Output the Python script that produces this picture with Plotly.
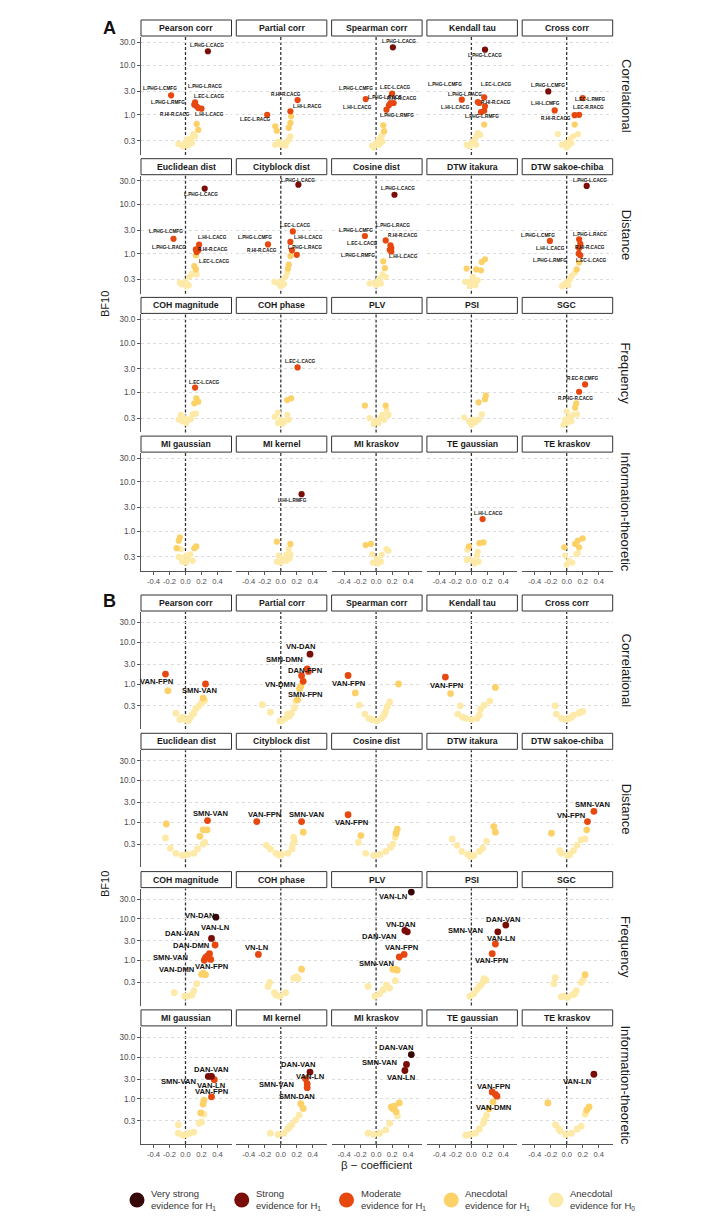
import math
import plotly.graph_objects as go

W, H = 702, 1219
FONT = "Liberation Sans, Arial, sans-serif"

FAMILIES = ["Correlational", "Distance", "Frequency", "Information-theoretic"]
METRICS = [
    ["Pearson corr", "Partial corr", "Spearman corr", "Kendall tau", "Cross corr"],
    ["Euclidean dist", "Cityblock dist", "Cosine dist", "DTW itakura", "DTW sakoe-chiba"],
    ["COH magnitude", "COH phase", "PLV", "PSI", "SGC"],
    ["MI gaussian", "MI kernel", "MI kraskov", "TE gaussian", "TE kraskov"],
]
Y_TICKS = [0.3, 1, 3, 10, 30]
Y_TICKTEXT = ["0.3", "1.0", "3.0", "10.0", "30.0"]
X_TICKS = [-0.4, -0.2, 0.0, 0.2, 0.4]
X_TICKTEXT = ["-0.4", "-0.2", "0.0", "0.2", "0.4"]

EVIDENCE = ["vs", "s", "m", "a1", "a0"]
EVIDENCE_TEXT = [
    "Very strong<br>evidence for H<sub>1</sub>",
    "Strong<br>evidence for H<sub>1</sub>",
    "Moderate<br>evidence for H<sub>1</sub>",
    "Anecdotal<br>evidence for H<sub>1</sub>",
    "Anecdotal<br>evidence for H<sub>0</sub>",
]
COLORS = {"vs": "#360707", "s": "#7a0d07", "m": "#e6480f", "a1": "#fcd168", "a0": "#feeaa8"}

# ---------------- Panel A data: (beta, BF10, evidence, label) ----------------
A_PEARSON_CORR = [
    (0.28, 19.5, "s", "L.PHG-L.CACG"), (-0.18, 2.5, "m", "L.PHG-L.CMFG"), (0.12, 1.8, "m", "L.PHG-L.RACG"),
    (0.14, 1.5, "m", "L.EC-L.CACG"), (0.16, 1.38, "m", "L.PHG-L.RMFG"), (0.20, 1.34, "m", "L.HI-L.CACG"),
    (0.11, 1.62, "m", "R.HI-R.CACG"),
    (0.14, 0.66, "a1", ""), (0.16, 0.50, "a1", ""), (0.10, 0.41, "a0", ""), (0.08, 0.35, "a0", ""),
    (0.05, 0.32, "a0", ""), (0.0, 0.28, "a0", ""), (-0.05, 0.25, "a0", ""), (0.03, 0.24, "a0", ""),
    (0.08, 0.27, "a0", ""), (-0.03, 0.23, "a0", ""), (-0.09, 0.26, "a0", ""), (0.12, 0.37, "a0", ""),
    (0.02, 0.32, "a0", ""),
]
A_PARTIAL_CORR = [
    (0.21, 2.0, "m", "R.HI-R.CACG"), (0.12, 1.19, "m", "L.HI-L.RACG"), (-0.17, 1.01, "m", "L.EC-L.RACG"),
    (0.13, 0.94, "a1", ""), (0.12, 0.69, "a1", ""), (0.10, 0.55, "a1", ""), (-0.07, 0.59, "a1", ""),
    (-0.05, 0.48, "a1", ""), (0.12, 0.37, "a0", ""), (0.10, 0.32, "a0", ""), (0.04, 0.27, "a0", ""),
    (0.0, 0.25, "a0", ""), (-0.07, 0.25, "a0", ""), (0.06, 0.24, "a0", ""), (-0.03, 0.29, "a0", ""),
    (0.08, 0.29, "a0", ""),
]
A_SPEARMAN_CORR = [
    (0.21, 23.4, "s", "L.PHG-L.CACG"), (-0.13, 2.1, "m", "L.PHG-L.CMFG"), (0.20, 2.7, "m", "L.EC-L.CACG"),
    (0.18, 1.75, "m", "L.PHG-L.RACG"), (0.16, 1.57, "m", "R.HI-R.CACG"), (0.13, 1.28, "m", "L.HI-L.CACG"),
    (0.22, 1.75, "m", "L.PHG-L.RMFG"),
    (0.09, 0.62, "a1", ""), (0.10, 0.47, "a1", ""), (0.08, 0.40, "a0", ""), (0.06, 0.36, "a0", ""),
    (0.03, 0.32, "a0", ""), (0.0, 0.27, "a0", ""), (-0.05, 0.24, "a0", ""), (0.04, 0.25, "a0", ""),
    (0.08, 0.29, "a0", ""), (-0.03, 0.22, "a0", ""),
]
A_KENDALL_TAU = [
    (0.17, 21.0, "s", "L.PHG-L.CACG"), (-0.12, 2.04, "m", "L.PHG-L.CMFG"), (0.16, 2.28, "m", "L.EC-L.CACG"),
    (0.08, 1.83, "m", "L.PHG-L.RACG"), (0.10, 1.75, "m", "R.HI-R.CACG"), (0.17, 1.5, "m", ""),
    (0.16, 1.22, "m", "L.HI-L.CACG"), (0.12, 1.15, "m", "L.PHG-L.RMFG"),
    (0.16, 0.64, "a1", ""), (0.08, 0.43, "a0", ""), (0.06, 0.37, "a0", ""), (0.11, 0.40, "a0", ""),
    (0.04, 0.32, "a0", ""), (0.0, 0.27, "a0", ""), (-0.06, 0.25, "a0", ""), (-0.02, 0.23, "a0", ""),
    (0.06, 0.25, "a0", ""), (0.02, 0.29, "a0", ""),
]
A_CROSS_CORR = [
    (-0.23, 3.0, "s", "L.PHG-L.CMFG"), (0.20, 2.2, "m", "L.EC-L.RMFG"), (-0.15, 1.24, "m", "L.HI-L.CMFG"),
    (0.10, 0.99, "m", "R.HI-R.CACG"), (0.155, 1.01, "m", "L.EC-R.RACG"),
    (0.10, 0.64, "a1", ""), (0.14, 0.41, "a0", ""), (0.08, 0.37, "a0", ""), (-0.11, 0.41, "a0", ""),
    (0.04, 0.32, "a0", ""), (-0.02, 0.27, "a0", ""), (-0.06, 0.25, "a0", ""), (0.02, 0.24, "a0", ""),
    (0.06, 0.27, "a0", ""), (0.0, 0.22, "a0", ""),
]
A_EUCLIDEAN_DIST = [
    (0.24, 20.8, "s", "L.PHG-L.CACG"), (-0.15, 2.0, "m", "L.PHG-L.CMFG"), (0.17, 1.52, "m", "L.HI-L.CACG"),
    (0.13, 1.22, "m", "L.PHG-L.RACG"), (0.16, 1.17, "m", "R.HI-R.CACG"), (0.14, 1.08, "m", "L.EC-L.CACG"),
    (0.13, 0.93, "a1", ""), (0.11, 0.56, "a1", ""), (0.13, 0.48, "a1", ""), (0.08, 0.39, "a0", ""),
    (0.14, 0.38, "a0", ""), (0.05, 0.34, "a0", ""), (0.0, 0.27, "a0", ""), (-0.05, 0.24, "a0", ""),
    (0.04, 0.23, "a0", ""), (0.01, 0.22, "a0", ""), (-0.07, 0.26, "a0", ""),
]
A_CITYBLOCK_DIST = [
    (0.22, 25.0, "s", "L.PHG-L.CACG"), (0.15, 2.83, "m", "L.EC-L.CACG"), (-0.16, 1.54, "m", "L.PHG-L.CMFG"),
    (0.12, 1.73, "m", "L.HI-L.CACG"), (0.14, 1.17, "m", "L.PHG-L.RACG"), (0.20, 0.95, "m", "R.HI-R.CACG"),
    (0.12, 0.90, "a1", ""), (0.10, 0.60, "a1", ""), (0.09, 0.50, "a1", ""), (0.08, 0.41, "a0", ""),
    (0.06, 0.34, "a0", ""), (0.02, 0.29, "a0", ""), (-0.03, 0.25, "a0", ""), (-0.08, 0.27, "a0", ""),
    (0.04, 0.24, "a0", ""), (0.0, 0.22, "a0", ""),
]
A_COSINE_DIST = [
    (0.23, 15.6, "s", "L.PHG-L.CACG"), (-0.14, 2.28, "m", "L.PHG-L.CMFG"), (0.12, 1.86, "m", "L.PHG-L.RACG"),
    (0.18, 1.47, "m", "R.HI-R.CACG"), (0.19, 1.3, "m", "L.EC-L.CACG"), (0.19, 1.11, "m", "L.HI-L.CACG"),
    (0.17, 1.2, "m", "L.PHG-L.RMFG"),
    (0.09, 0.70, "a1", ""), (0.11, 0.51, "a1", ""), (0.08, 0.38, "a0", ""), (0.12, 0.34, "a0", ""),
    (0.04, 0.31, "a0", ""), (-0.02, 0.26, "a0", ""), (-0.08, 0.25, "a0", ""), (0.06, 0.25, "a0", ""),
    (0.0, 0.23, "a0", ""),
]
A_DTW_ITAKURA = [
    (0.17, 0.77, "a1", ""), (0.13, 0.68, "a1", ""), (-0.06, 0.50, "a1", ""), (0.06, 0.48, "a1", ""),
    (0.12, 0.46, "a1", ""), (0.02, 0.34, "a0", ""), (-0.04, 0.27, "a0", ""), (0.0, 0.25, "a0", ""),
    (0.04, 0.27, "a0", ""), (-0.08, 0.27, "a0", ""), (0.08, 0.29, "a0", ""), (-0.02, 0.22, "a0", ""),
    (0.05, 0.23, "a0", ""),
]
A_DTW_SAKOE_CHIBA = [
    (0.25, 23.5, "s", "L.PHG-L.CACG"), (-0.21, 1.81, "m", "L.PHG-L.CMFG"), (0.155, 1.95, "m", "L.PHG-L.RACG"),
    (0.17, 1.59, "m", "R.HI-R.CACG"), (0.155, 1.3, "m", "L.HI-L.CACG"), (0.15, 1.0, "m", "L.EC-L.CACG"),
    (0.17, 0.93, "m", "L.PHG-L.RMFG"),
    (0.155, 0.66, "a1", ""), (0.125, 0.48, "a1", ""), (0.10, 0.41, "a0", ""), (0.06, 0.35, "a0", ""),
    (0.04, 0.30, "a0", ""), (0.0, 0.27, "a0", ""), (-0.03, 0.24, "a0", ""), (-0.06, 0.22, "a0", ""),
    (0.02, 0.23, "a0", ""),
]
A_COH_MAGNITUDE = [
    (0.12, 1.25, "m", "L.EC-L.CACG"),
    (0.135, 0.76, "a1", ""), (0.16, 0.65, "a1", ""), (0.11, 0.60, "a1", ""), (0.09, 0.36, "a0", ""),
    (0.13, 0.37, "a0", ""), (-0.06, 0.35, "a0", ""), (-0.01, 0.30, "a0", ""), (0.04, 0.28, "a0", ""),
    (-0.04, 0.26, "a0", ""), (0.01, 0.24, "a0", ""), (0.07, 0.29, "a0", ""), (-0.085, 0.28, "a0", ""),
]
A_COH_PHASE = [
    (0.21, 3.2, "m", "L.EC-L.CACG"),
    (0.13, 0.76, "a1", ""), (0.08, 0.70, "a1", ""), (-0.035, 0.39, "a0", ""), (0.08, 0.35, "a0", ""),
    (-0.075, 0.32, "a0", ""), (0.0, 0.28, "a0", ""), (0.05, 0.26, "a0", ""), (-0.035, 0.24, "a0", ""),
    (0.10, 0.28, "a0", ""), (0.02, 0.23, "a0", ""),
]
A_PLV = [
    (-0.14, 0.54, "a1", ""), (0.12, 0.54, "a1", ""), (0.13, 0.44, "a0", ""), (0.155, 0.35, "a0", ""),
    (0.08, 0.35, "a0", ""), (0.05, 0.30, "a0", ""), (-0.08, 0.30, "a0", ""), (-0.015, 0.26, "a0", ""),
    (0.03, 0.24, "a0", ""), (-0.03, 0.23, "a0", ""), (0.10, 0.28, "a0", ""),
]
A_PSI = [
    (0.18, 0.86, "a1", ""), (0.17, 0.73, "a1", ""), (0.09, 0.63, "a1", ""), (0.13, 0.36, "a0", ""),
    (-0.09, 0.31, "a0", ""), (0.02, 0.28, "a0", ""), (-0.03, 0.26, "a0", ""), (0.05, 0.25, "a0", ""),
    (0.0, 0.22, "a0", ""), (0.09, 0.28, "a0", ""),
]
A_SGC = [
    (0.23, 1.45, "m", "R.EC-R.CMFG"), (0.155, 1.03, "m", "R.PHG-R.CACG"),
    (0.12, 0.60, "a1", ""), (0.105, 0.49, "a1", ""), (0.0, 0.41, "a0", ""), (0.13, 0.36, "a0", ""),
    (0.08, 0.35, "a0", ""), (0.03, 0.32, "a0", ""), (-0.02, 0.28, "a0", ""), (0.06, 0.26, "a0", ""),
    (0.0, 0.24, "a0", ""), (-0.04, 0.22, "a0", ""),
]
A_MI_GAUSSIAN = [
    (-0.07, 0.75, "a1", ""), (-0.085, 0.64, "a1", ""), (-0.11, 0.45, "a1", ""), (-0.06, 0.43, "a0", ""),
    (0.11, 0.45, "a1", ""), (0.135, 0.49, "a1", ""), (0.06, 0.34, "a0", ""), (0.01, 0.32, "a0", ""),
    (-0.06, 0.29, "a0", ""), (0.03, 0.27, "a0", ""), (-0.04, 0.24, "a0", ""), (0.01, 0.23, "a0", ""),
    (0.09, 0.25, "a0", ""), (-0.085, 0.30, "a0", ""),
]
A_MI_KERNEL = [
    (0.26, 5.6, "s", "L.HI-L.RMFG"),
    (-0.05, 0.61, "a1", ""), (0.12, 0.55, "a1", ""), (0.10, 0.43, "a0", ""), (0.12, 0.34, "a0", ""),
    (0.07, 0.33, "a0", ""), (-0.025, 0.32, "a0", ""), (0.025, 0.27, "a0", ""), (-0.05, 0.24, "a0", ""),
    (0.07, 0.25, "a0", ""), (0.0, 0.23, "a0", ""), (0.11, 0.28, "a0", ""),
]
A_MI_KRASKOV = [
    (-0.13, 0.52, "a1", ""), (-0.065, 0.55, "a1", ""), (0.13, 0.43, "a0", ""), (0.155, 0.40, "a0", ""),
    (-0.05, 0.34, "a0", ""), (0.07, 0.33, "a0", ""), (0.01, 0.27, "a0", ""), (0.06, 0.24, "a0", ""),
    (-0.04, 0.23, "a0", ""), (0.02, 0.22, "a0", ""),
]
A_TE_GAUSSIAN = [
    (0.14, 1.75, "m", "L.HI-L.CACG"),
    (0.15, 0.59, "a1", ""), (0.10, 0.57, "a1", ""), (-0.03, 0.49, "a1", ""), (-0.05, 0.42, "a0", ""),
    (0.08, 0.38, "a0", ""), (0.07, 0.32, "a0", ""), (-0.03, 0.27, "a0", ""), (0.02, 0.25, "a0", ""),
    (0.09, 0.24, "a0", ""), (0.04, 0.22, "a0", ""), (-0.06, 0.26, "a0", ""),
]
A_TE_KRASKOV = [
    (0.20, 0.71, "a1", ""), (0.14, 0.64, "a1", ""), (0.105, 0.55, "a1", ""), (0.155, 0.47, "a1", ""),
    (-0.03, 0.47, "a1", ""), (0.12, 0.34, "a0", ""), (0.14, 0.36, "a0", ""), (-0.02, 0.32, "a0", ""),
    (0.03, 0.25, "a0", ""), (0.0, 0.21, "a0", ""), (0.07, 0.23, "a0", ""),
]

# ---------------- Panel B data ----------------
B_PEARSON_CORR = [
    (-0.25, 1.73, "m", "VAN-FPN"), (0.25, 1.0, "m", "SMN-VAN"),
    (-0.22, 0.69, "a1", ""), (0.22, 0.46, "a1", ""), (0.20, 0.35, "a0", ""), (0.24, 0.40, "a0", ""),
    (0.13, 0.26, "a0", ""), (0.17, 0.30, "a0", ""), (-0.12, 0.20, "a0", ""), (-0.04, 0.16, "a0", ""),
    (0.0, 0.14, "a0", ""), (0.055, 0.15, "a0", ""), (0.08, 0.18, "a0", ""), (0.105, 0.20, "a0", ""),
    (-0.07, 0.14, "a0", ""), (0.03, 0.13, "a0", ""),
]
B_PARTIAL_CORR = [
    (0.365, 5.2, "s", "VN-DAN"), (0.33, 2.3, "m", "SMN-DMN"), (0.345, 2.0, "m", "DAN-FPN"),
    (0.26, 1.58, "m", ""), (0.28, 1.16, "m", "VN-DMN"),
    (0.25, 0.88, "a1", ""), (0.235, 0.77, "a1", ""), (0.21, 0.42, "a1", "SMN-FPN"),
    (0.185, 0.39, "a0", ""), (0.17, 0.27, "a0", ""), (0.135, 0.20, "a0", ""), (0.11, 0.17, "a0", ""),
    (0.06, 0.15, "a0", ""), (0.01, 0.13, "a0", ""), (-0.23, 0.32, "a0", ""), (-0.13, 0.21, "a0", ""),
    (-0.01, 0.13, "a0", ""), (0.085, 0.19, "a0", ""),
]
B_SPEARMAN_CORR = [
    (-0.35, 1.6, "m", "VAN-FPN"),
    (0.28, 1.0, "a1", ""), (-0.26, 0.61, "a1", ""), (-0.21, 0.31, "a0", ""), (0.17, 0.37, "a0", ""),
    (0.14, 0.29, "a0", ""), (0.12, 0.22, "a0", ""), (-0.14, 0.19, "a0", ""), (-0.05, 0.14, "a0", ""),
    (0.01, 0.13, "a0", ""), (0.07, 0.15, "a0", ""), (0.10, 0.18, "a0", ""), (-0.09, 0.15, "a0", ""),
]
B_KENDALL_TAU = [
    (-0.325, 1.47, "m", "VAN-FPN"),
    (-0.26, 0.59, "a1", ""), (0.30, 0.83, "a1", ""), (-0.14, 0.30, "a0", ""), (0.23, 0.39, "a0", ""),
    (0.16, 0.31, "a0", ""), (0.115, 0.25, "a0", ""), (-0.17, 0.19, "a0", ""), (-0.07, 0.15, "a0", ""),
    (0.0, 0.14, "a0", ""), (0.07, 0.15, "a0", ""), (0.10, 0.18, "a0", ""), (-0.11, 0.16, "a0", ""),
]
B_CROSS_CORR = [
    (-0.145, 0.30, "a0", ""), (-0.13, 0.19, "a0", ""), (0.20, 0.22, "a0", ""), (0.15, 0.20, "a0", ""),
    (0.085, 0.18, "a0", ""), (0.035, 0.15, "a0", ""), (-0.015, 0.14, "a0", ""), (-0.065, 0.15, "a0", ""),
    (0.17, 0.21, "a0", ""), (0.06, 0.16, "a0", ""),
]
B_EUCLIDEAN_DIST = [
    (0.275, 1.1, "m", "SMN-VAN"),
    (-0.24, 0.91, "a1", ""), (0.27, 0.66, "a1", ""), (0.22, 0.66, "a1", ""), (0.18, 0.46, "a1", ""),
    (0.24, 0.33, "a0", ""), (0.22, 0.30, "a0", ""), (-0.25, 0.42, "a0", ""), (-0.19, 0.24, "a0", ""),
    (-0.12, 0.18, "a0", ""), (-0.04, 0.16, "a0", ""), (0.03, 0.17, "a0", ""), (0.105, 0.18, "a0", ""),
    (0.15, 0.23, "a0", ""),
]
B_CITYBLOCK_DIST = [
    (-0.30, 1.04, "m", "VAN-FPN"), (0.26, 1.04, "m", "SMN-VAN"),
    (0.28, 0.58, "a1", ""), (0.16, 0.44, "a0", ""), (0.17, 0.35, "a0", ""), (0.15, 0.30, "a0", ""),
    (-0.18, 0.28, "a0", ""), (-0.13, 0.23, "a0", ""), (-0.06, 0.18, "a0", ""), (0.01, 0.17, "a0", ""),
    (0.09, 0.18, "a0", ""), (0.14, 0.23, "a0", ""), (-0.02, 0.16, "a0", ""),
]
B_COSINE_DIST = [
    (-0.35, 1.52, "m", "VAN-FPN"),
    (0.265, 0.69, "a1", ""), (0.25, 0.55, "a1", ""), (0.24, 0.44, "a0", ""), (-0.19, 0.48, "a1", ""),
    (-0.22, 0.33, "a0", ""), (-0.13, 0.18, "a0", ""), (-0.03, 0.16, "a0", ""), (0.045, 0.17, "a0", ""),
    (0.12, 0.20, "a0", ""), (0.18, 0.25, "a0", ""), (0.21, 0.30, "a0", ""),
]
B_DTW_ITAKURA = [
    (0.28, 0.79, "a1", ""), (0.30, 0.58, "a1", ""), (-0.24, 0.40, "a0", ""), (0.19, 0.35, "a0", ""),
    (-0.18, 0.28, "a0", ""), (-0.12, 0.20, "a0", ""), (-0.045, 0.17, "a0", ""), (0.03, 0.16, "a0", ""),
    (0.10, 0.20, "a0", ""), (0.14, 0.24, "a0", ""), (-0.01, 0.15, "a0", ""),
]
B_DTW_SAKOE_CHIBA = [
    (0.34, 1.83, "m", "SMN-VAN"), (0.26, 1.04, "m", "VN-FPN"),
    (0.25, 0.66, "a1", ""), (0.23, 0.40, "a0", ""), (0.18, 0.38, "a0", ""), (-0.19, 0.55, "a1", ""),
    (-0.09, 0.21, "a0", ""), (-0.065, 0.18, "a0", ""), (0.085, 0.21, "a0", ""), (0.13, 0.28, "a0", ""),
    (0.01, 0.16, "a0", ""), (0.04, 0.17, "a0", ""),
]
B_COH_MAGNITUDE = [
    (0.38, 11.0, "vs", "VN-DAN"), (0.325, 3.4, "s", "VAN-LN"), (0.37, 2.37, "m", "DAN-VAN"),
    (0.30, 1.47, "m", "DAN-DMN"), (0.275, 1.3, "m", ""), (0.315, 1.07, "m", "SMN-VAN"),
    (0.235, 1.02, "m", "VAN-DMN"), (0.25, 1.18, "m", "VAN-FPN"),
    (0.20, 0.47, "a1", ""), (0.25, 0.46, "a1", ""), (0.22, 0.50, "a1", ""), (0.14, 0.28, "a0", ""),
    (-0.14, 0.17, "a0", ""), (0.03, 0.14, "a0", ""), (0.08, 0.15, "a0", ""), (0.105, 0.19, "a0", ""),
    (-0.01, 0.14, "a0", ""),
]
B_COH_PHASE = [
    (-0.28, 1.41, "m", "VN-LN"),
    (0.26, 0.62, "a1", ""), (0.20, 0.41, "a0", ""), (0.16, 0.38, "a0", ""), (0.22, 0.37, "a0", ""),
    (-0.14, 0.30, "a0", ""), (-0.16, 0.24, "a0", ""), (-0.08, 0.17, "a0", ""), (-0.01, 0.14, "a0", ""),
    (0.06, 0.17, "a0", ""), (-0.06, 0.15, "a0", ""),
]
B_PLV = [
    (0.44, 44.0, "vs", "VAN-LN"), (0.39, 4.9, "s", "VN-DAN"), (0.36, 5.3, "s", "DAN-VAN"),
    (0.35, 1.41, "m", "VAN-FPN"), (0.29, 1.22, "m", "SMN-VAN"),
    (0.24, 0.62, "a1", ""), (0.265, 0.59, "a1", ""), (0.21, 0.62, "a1", ""), (0.24, 0.33, "a0", ""),
    (0.13, 0.26, "a0", ""), (-0.10, 0.24, "a0", ""), (0.09, 0.20, "a0", ""), (0.045, 0.16, "a0", ""),
    (-0.015, 0.14, "a0", ""), (0.17, 0.22, "a0", ""),
]
B_PSI = [
    (0.43, 7.1, "s", "DAN-VAN"), (0.33, 4.9, "s", "SMN-VAN"), (0.30, 2.5, "m", "VAN-LN"),
    (0.26, 1.47, "m", "VAN-FPN"),
    (0.18, 0.34, "a0", ""), (0.15, 0.32, "a0", ""), (0.125, 0.27, "a0", ""), (0.10, 0.24, "a0", ""),
    (0.065, 0.20, "a0", ""), (0.03, 0.16, "a0", ""), (-0.02, 0.14, "a0", ""), (0.16, 0.37, "a0", ""),
]
B_SGC = [
    (-0.145, 0.39, "a0", ""), (-0.16, 0.28, "a0", ""), (0.23, 0.46, "a1", ""), (0.205, 0.34, "a0", ""),
    (0.18, 0.30, "a0", ""), (0.12, 0.19, "a0", ""), (0.10, 0.16, "a0", ""), (-0.04, 0.14, "a0", ""),
    (0.01, 0.13, "a0", ""), (-0.07, 0.135, "a0", ""), (0.07, 0.15, "a0", ""),
]
B_MI_GAUSSIAN = [
    (0.285, 3.47, "s", "DAN-VAN"), (0.325, 3.47, "s", "SMN-VAN"), (0.36, 2.9, "m", "VAN-LN"),
    (0.325, 1.12, "m", "VAN-FPN"),
    (0.23, 0.93, "a1", ""), (0.22, 0.75, "a1", ""), (0.19, 0.46, "a1", ""), (0.23, 0.43, "a0", ""),
    (0.20, 0.28, "a0", ""), (0.17, 0.26, "a0", ""), (-0.09, 0.24, "a0", ""), (-0.09, 0.15, "a0", ""),
    (0.006, 0.14, "a0", ""), (0.055, 0.15, "a0", ""), (0.105, 0.16, "a0", ""), (-0.03, 0.135, "a0", ""),
]
B_MI_KERNEL = [
    (0.365, 4.4, "s", "DAN-VAN"), (0.31, 3.05, "m", "VAN-LN"), (0.33, 2.3, "m", "SMN-VAN"),
    (0.33, 1.86, "m", "SMN-DAN"),
    (0.25, 0.77, "a1", ""), (0.28, 0.59, "a1", ""), (0.23, 0.41, "a0", ""), (0.185, 0.31, "a0", ""),
    (0.135, 0.24, "a0", ""), (0.085, 0.19, "a0", ""), (0.04, 0.15, "a0", ""), (-0.035, 0.14, "a0", ""),
    (-0.13, 0.15, "a0", ""), (0.11, 0.21, "a0", ""),
]
B_MI_KRASKOV = [
    (0.44, 11.6, "vs", "DAN-VAN"), (0.38, 6.7, "s", "SMN-VAN"), (0.36, 4.8, "s", "VAN-LN"),
    (0.29, 0.80, "a1", ""), (0.23, 0.67, "a1", ""), (0.19, 0.64, "a1", ""), (0.25, 0.49, "a1", ""),
    (0.265, 0.39, "a0", ""), (0.21, 0.58, "a1", ""), (0.17, 0.26, "a0", ""), (0.12, 0.18, "a0", ""),
    (0.045, 0.15, "a0", ""), (-0.03, 0.14, "a0", ""), (-0.10, 0.15, "a0", ""),
]
B_TE_GAUSSIAN = [
    (0.30, 1.29, "m", "VAN-FPN"), (0.26, 1.47, "m", ""), (0.32, 1.16, "m", ""),
    (0.27, 0.85, "a1", "VAN-DMN"),
    (0.22, 0.58, "a1", ""), (0.16, 0.31, "a0", ""), (0.15, 0.26, "a0", ""), (0.10, 0.19, "a0", ""),
    (0.05, 0.15, "a0", ""), (-0.02, 0.14, "a0", ""), (-0.07, 0.135, "a0", ""), (0.19, 0.40, "a0", ""),
]
B_TE_KRASKOV = [
    (0.34, 3.9, "s", "VAN-LN"),
    (-0.235, 0.80, "a1", ""), (0.28, 0.64, "a1", ""), (0.25, 0.54, "a1", ""), (0.23, 0.43, "a0", ""),
    (-0.14, 0.24, "a0", ""), (-0.10, 0.19, "a0", ""), (-0.015, 0.14, "a0", ""), (0.06, 0.15, "a0", ""),
    (0.13, 0.19, "a0", ""), (0.18, 0.22, "a0", ""), (-0.08, 0.17, "a0", ""),
]

A_TABLES = [
    [A_PEARSON_CORR, A_PARTIAL_CORR, A_SPEARMAN_CORR, A_KENDALL_TAU, A_CROSS_CORR],
    [A_EUCLIDEAN_DIST, A_CITYBLOCK_DIST, A_COSINE_DIST, A_DTW_ITAKURA, A_DTW_SAKOE_CHIBA],
    [A_COH_MAGNITUDE, A_COH_PHASE, A_PLV, A_PSI, A_SGC],
    [A_MI_GAUSSIAN, A_MI_KERNEL, A_MI_KRASKOV, A_TE_GAUSSIAN, A_TE_KRASKOV],
]
B_TABLES = [
    [B_PEARSON_CORR, B_PARTIAL_CORR, B_SPEARMAN_CORR, B_KENDALL_TAU, B_CROSS_CORR],
    [B_EUCLIDEAN_DIST, B_CITYBLOCK_DIST, B_COSINE_DIST, B_DTW_ITAKURA, B_DTW_SAKOE_CHIBA],
    [B_COH_MAGNITUDE, B_COH_PHASE, B_PLV, B_PSI, B_SGC],
    [B_MI_GAUSSIAN, B_MI_KERNEL, B_MI_KRASKOV, B_TE_GAUSSIAN, B_TE_KRASKOV],
]

# label placement (screen px offsets from the point: dx right, dy down)
LABEL_SHIFT = {
    ("A", "Pearson corr"): {"L.PHG-L.CACG": (-1, -6), "L.PHG-L.CMFG": (-11, -7), "L.PHG-L.RACG": (10, -16),
                            "L.EC-L.CACG": (13, -10), "L.PHG-L.RMFG": (-30, -6), "L.HI-L.CACG": (8, 6),
                            "R.HI-R.CACG": (-19, 10)},
    ("A", "Partial corr"): {"R.HI-R.CACG": (-12, -6), "L.HI-L.RACG": (17, -5), "L.EC-L.RACG": (-12, 5)},
    ("A", "Spearman corr"): {"L.PHG-L.CACG": (6, -6), "L.PHG-L.CMFG": (-10, -11), "L.EC-L.CACG": (3, -6),
                             "L.PHG-L.RACG": (-5, -5), "R.HI-R.CACG": (13, -7), "L.HI-L.CACG": (-29, -2),
                             "L.PHG-L.RMFG": (3, 13)},
    ("A", "Kendall tau"): {"L.PHG-L.CACG": (0, 6), "L.PHG-L.CMFG": (-17, -15), "L.EC-L.CACG": (12, -13),
                           "L.PHG-L.RACG": (-13, -8), "R.HI-R.CACG": (17, 0), "L.HI-L.CACG": (-29, -3),
                           "L.PHG-L.RMFG": (1, 5)},
    ("A", "Cross corr"): {"L.PHG-L.CMFG": (0, -6), "L.EC-L.RMFG": (8, 1), "L.HI-L.CMFG": (-9, -7),
                          "R.HI-R.CACG": (-19, 3), "L.EC-R.RACG": (9, -7)},
    ("A", "Euclidean dist"): {"L.PHG-L.CACG": (-4, 6), "L.PHG-L.CMFG": (-7, -7), "L.HI-L.CACG": (13, -7),
                              "L.PHG-L.RACG": (-27, -2), "R.HI-R.CACG": (15, -1), "L.EC-L.CACG": (18, 9)},
    ("A", "Cityblock dist"): {"L.PHG-L.CACG": (0, -4), "L.EC-L.CACG": (3, -6), "L.PHG-L.CMFG": (-13, -7),
                              "L.HI-L.CACG": (18, -4), "L.PHG-L.RACG": (13, -3), "R.HI-R.CACG": (-35, -4)},
    ("A", "Cosine dist"): {"L.PHG-L.CACG": (4, -6), "L.PHG-L.CMFG": (-9, -6), "L.PHG-L.RACG": (7, -15),
                           "R.HI-R.CACG": (13, -10), "L.EC-L.CACG": (-29, -5), "L.HI-L.CACG": (12, 5),
                           "L.PHG-L.RMFG": (-32, 6)},
    ("A", "DTW sakoe-chiba"): {"L.PHG-L.CACG": (3, -5), "L.PHG-L.CMFG": (-12, -5), "L.PHG-L.RACG": (11, -5),
                               "R.HI-R.CACG": (10, 4), "L.HI-L.CACG": (-29, 0), "L.EC-L.CACG": (13, 7),
                               "L.PHG-L.RMFG": (-30, 5)},
    ("A", "COH magnitude"): {"L.EC-L.CACG": (9, -5)},
    ("A", "COH phase"): {"L.EC-L.CACG": (3, -6)},
    ("A", "SGC"): {"R.EC-R.CMFG": (-2, -6), "R.PHG-R.CACG": (-4, 7)},
    ("A", "MI kernel"): {"L.HI-L.RMFG": (-9, 6)},
    ("A", "TE gaussian"): {"L.HI-L.CACG": (6, -6)},
    ("B", "Pearson corr"): {"VAN-FPN": (-9, 7), "SMN-VAN": (-6, 6)},
    ("B", "Partial corr"): {"VN-DAN": (-9, -8), "SMN-DMN": (-23, -9), "DAN-FPN": (-3, -1),
                            "VN-DMN": (-23, 3), "SMN-FPN": (8, -5)},
    ("B", "Spearman corr"): {"VAN-FPN": (0, 8)},
    ("B", "Kendall tau"): {"VAN-FPN": (1, 8)},
    ("B", "Euclidean dist"): {"SMN-VAN": (3, -7)},
    ("B", "Cityblock dist"): {"VAN-FPN": (8, -7), "SMN-VAN": (5, -7)},
    ("B", "Cosine dist"): {"VAN-FPN": (3, 8)},
    ("B", "DTW sakoe-chiba"): {"SMN-VAN": (-1, -7), "VN-FPN": (-16, -6)},
    ("B", "COH magnitude"): {"VN-DAN": (-16, -2), "VAN-LN": (3, -11), "DAN-VAN": (-33, -11),
                             "DAN-DMN": (-19, -8), "SMN-VAN": (-40, -2), "VAN-DMN": (-28, 9),
                             "VAN-FPN": (6, 9)},
    ("B", "COH phase"): {"VN-LN": (-2, -7)},
    ("B", "PLV"): {"VAN-LN": (-18, 4), "VN-DAN": (-6, -7), "DAN-VAN": (-26, 6), "VAN-FPN": (-3, -7),
                   "SMN-VAN": (-23, 6)},
    ("B", "PSI"): {"DAN-VAN": (-3, -6), "SMN-VAN": (-32, -1), "VAN-LN": (6, -6), "VAN-FPN": (-1, 7)},
    ("B", "MI gaussian"): {"DAN-VAN": (3, -7), "SMN-VAN": (-33, 5), "VAN-LN": (-3, 6), "VAN-FPN": (0, -5)},
    ("B", "MI kernel"): {"DAN-VAN": (-12, -8), "VAN-LN": (4, -2), "SMN-VAN": (-31, 1), "SMN-DAN": (-10, 9)},
    ("B", "MI kraskov"): {"DAN-VAN": (-15, -7), "SMN-VAN": (-27, -2), "VAN-LN": (-4, 7)},
    ("B", "TE gaussian"): {"VAN-FPN": (-2, -8), "VAN-DMN": (1, 6)},
    ("B", "TE kraskov"): {"VAN-LN": (-17, 7)},
}

# ---------------- geometry (pixels) ----------------
COL_LEFT = [133 + 95.3 * c for c in range(5)]
COL_W = 90.5
X_RANGE = [-0.556, 0.575]
PANEL_GEOM = {
    "A": dict(top=29, pitch=138.7, h=118, yrange=[-0.81, 1.579], label_size=4.7, msize=6.2,
              letter_y=20, ytitle_y=296),
    "B": dict(top=604, pitch=138.3, h=117, yrange=[-1.079, 1.727], label_size=7.6, msize=6.8,
              letter_y=593, ytitle_y=876),
}
ORDER = {"a0": 0, "a1": 1, "m": 2, "s": 3, "vs": 4}


def px_x(p):
    return p / W


def px_y(p):
    return 1 - p / H


fig = go.Figure()
layout = dict(width=W, height=H, margin=dict(l=0, r=0, t=0, b=0), paper_bgcolor="white",
              plot_bgcolor="white", showlegend=False, font=dict(family=FONT))
shapes, annotations = [], []

n = 0
for panel, tables in (("A", A_TABLES), ("B", B_TABLES)):
    g = PANEL_GEOM[panel]
    for r in range(4):
        top = g["top"] + g["pitch"] * r
        bottom = top + g["h"]
        for c in range(5):
            n += 1
            metric = METRICS[r][c]
            rows = sorted(tables[r][c], key=lambda t: ORDER[t[2]])
            xa = "xaxis" if n == 1 else f"xaxis{n}"
            ya = "yaxis" if n == 1 else f"yaxis{n}"
            xr = "x" if n == 1 else f"x{n}"
            yr = "y" if n == 1 else f"y{n}"
            left = COL_LEFT[c]
            bottom_row = r == 3
            layout[xa] = dict(
                domain=[px_x(left), px_x(left + COL_W)], anchor=yr, range=X_RANGE,
                showgrid=False, zeroline=False, tickvals=X_TICKS, ticktext=X_TICKTEXT,
                showticklabels=bottom_row, ticks="outside" if bottom_row else "", ticklen=3,
                tickcolor="#555555", showline=bottom_row, linecolor="#555555", linewidth=1,
                tickfont=dict(size=7.6, color="#4d4d4d", family=FONT),
            )
            layout[ya] = dict(
                domain=[px_y(bottom), px_y(top)], anchor=xr, type="log", range=g["yrange"],
                tickvals=Y_TICKS, ticktext=Y_TICKTEXT, showgrid=True, gridcolor="#dcdcdc",
                griddash="dot", gridwidth=1.2, zeroline=False,
                showticklabels=(c == 0), ticks="outside" if c == 0 else "", ticklen=3,
                tickcolor="#555555", showline=(c == 0), linecolor="#555555", linewidth=1,
                tickfont=dict(size=8.2, color="#4d4d4d", family=FONT),
            )
            # dashed zero line
            shapes.append(dict(type="line", xref=xr, yref=f"{yr} domain", x0=0, x1=0, y0=0, y1=1,
                               line=dict(color="#333333", width=1.3, dash="3px,2px"), layer="below"))
            # strip
            shapes.append(dict(type="rect", xref="paper", yref="paper",
                               x0=px_x(left), x1=px_x(left + COL_W),
                               y0=px_y(top - 1), y1=px_y(top - 17),
                               line=dict(color="#333333", width=1), fillcolor="white"))
            annotations.append(dict(text=f"<b>{metric}</b>", xref="paper", yref="paper",
                                    x=px_x(left + COL_W / 2), y=px_y(top - 9), showarrow=False,
                                    xanchor="center", yanchor="middle",
                                    font=dict(size=8.7, color="#1a1a1a", family=FONT)))
            fig.add_trace(go.Scatter(
                x=[t[0] for t in rows], y=[t[1] for t in rows], mode="markers",
                marker=dict(size=g["msize"], color=[COLORS[t[2]] for t in rows], line=dict(width=0)),
                xaxis=xr, yaxis=yr, hoverinfo="skip",
            ))
            shifts = LABEL_SHIFT.get((panel, metric), {})
            for bx, bf, ev, lab in rows:
                if not lab:
                    continue
                dx, dy = shifts.get(lab, (0, -6))
                annotations.append(dict(text=f"<b>{lab}</b>", xref=xr, yref=yr, x=bx, y=math.log10(bf),
                                        xshift=dx, yshift=-dy, showarrow=False, xanchor="center",
                                        yanchor="middle",
                                        font=dict(size=g["label_size"], color="#111111", family=FONT)))
        # family label on right
        annotations.append(dict(text=FAMILIES[r], xref="paper", yref="paper", x=px_x(618),
                                y=px_y((top + bottom) / 2), showarrow=False, textangle=90,
                                xanchor="center", yanchor="middle",
                                font=dict(size=13, color="#1a1a1a", family=FONT)))
    annotations.append(dict(text="<b>" + panel + "</b>", xref="paper", yref="paper", x=px_x(101),
                            y=px_y(g["letter_y"]), showarrow=False, xanchor="center", yanchor="middle",
                            font=dict(size=18, color="#111111", family=FONT)))
    annotations.append(dict(text="BF10", xref="paper", yref="paper", x=px_x(97), y=px_y(g["ytitle_y"]),
                            showarrow=False, textangle=-90, xanchor="center", yanchor="middle",
                            font=dict(size=11, color="#1a1a1a", family=FONT)))

annotations.append(dict(text="β − coefficient", xref="paper", yref="paper", x=px_x(369), y=px_y(1157),
                        showarrow=False, xanchor="center", yanchor="middle",
                        font=dict(size=11.5, color="#1a1a1a", family=FONT)))

# legend row (own hidden axis)
n += 1
layout[f"xaxis{n}"] = dict(domain=[0, 1], anchor=f"y{n}", range=[-129 / 104.75, (W - 129) / 104.75],
                           visible=False)
layout[f"yaxis{n}"] = dict(domain=[px_y(1210), px_y(1174)], anchor=f"x{n}", range=[-1, 1], visible=False)
fig.add_trace(go.Scatter(x=list(range(len(EVIDENCE))), y=[0] * len(EVIDENCE), mode="markers",
                         marker=dict(size=15, color=[COLORS[e] for e in EVIDENCE]),
                         xaxis=f"x{n}", yaxis=f"y{n}", hoverinfo="skip"))
for i, txt in enumerate(EVIDENCE_TEXT):
    annotations.append(dict(text=txt, xref=f"x{n}", yref=f"y{n}", x=i, y=0, xshift=12, showarrow=False,
                            xanchor="left", yanchor="middle", align="left",
                            font=dict(size=9.5, color="#333333", family=FONT)))

layout["shapes"] = shapes
layout["annotations"] = annotations
fig.update_layout(**layout)
fig.write_html("out.html")
